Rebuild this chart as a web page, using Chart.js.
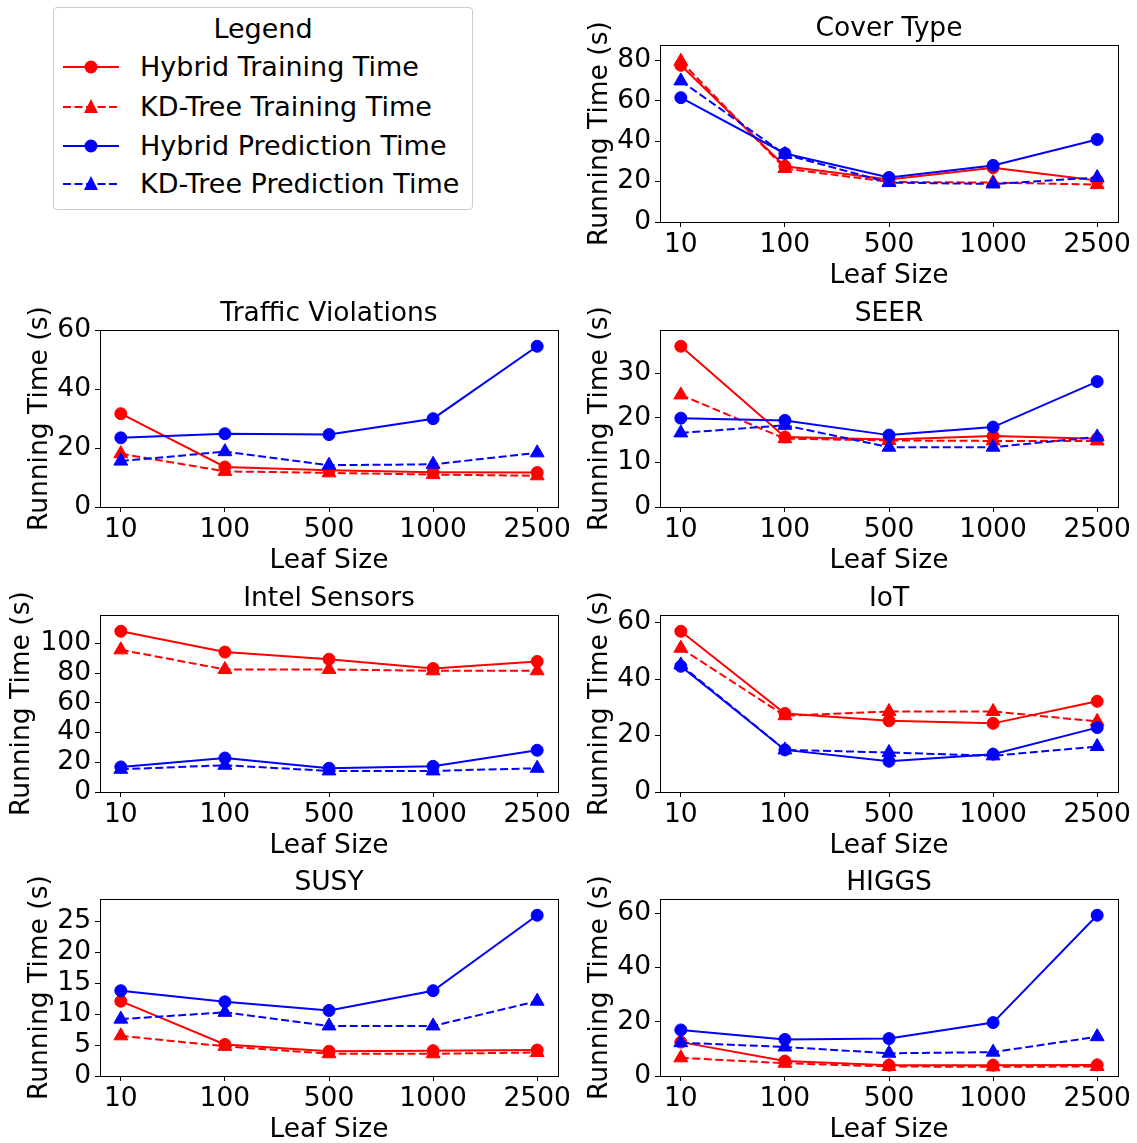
<!DOCTYPE html>
<html>
<head>
<meta charset="utf-8">
<script src="https://cdn.jsdelivr.net/npm/chart.js@4.4.0/dist/chart.umd.min.js"></script>
<style>
  body { margin: 0; background: #fff; width: 1137px; height: 1143px; position: relative; overflow: hidden;
         font-family: 'DejaVu Sans', sans-serif; color: #000; }
  canvas { position: absolute; }
  .legend { position: absolute; left: 53px; top: 7px; width: 418px; height: 201px;
            border: 1px solid #cccccc; border-radius: 4px; background: #fff; }
  .legend .lt { position: absolute; left: 0; width: 100%; top: 6px; line-height: 30px; font-size: 27px; text-align: center; }
  .legend .row { position: absolute; left: 0; height: 30px; line-height: 30px; font-size: 27px; white-space: nowrap; }
  .legend svg { position: absolute; left: 9px; top: 5px; }
  .legend span { position: absolute; left: 86px; top: 0; }
</style>
</head>
<body>
<div class="legend" id="legend"><div class="lt">Legend</div></div>
<script>
const leafSizes = ['10', '100', '500', '1000', '2500'];
const seriesNames = ['Hybrid Training Time', 'KD-Tree Training Time', 'Hybrid Prediction Time', 'KD-Tree Prediction Time'];

// each panel: [hybrid train, kd-tree train, hybrid predict, kd-tree predict]
const coverType = [
  [77.5, 27.6, 21.0, 26.8, 20.5],
  [79.5, 26.5, 19.8, 19.5, 18.5],
  [61.5, 33.9, 22.0, 28.0, 40.8],
  [69.8, 33.4, 19.5, 18.8, 22.0]
];
const trafficViolations = [
  [31.7, 13.6, 12.5, 11.8, 11.7],
  [18.1, 12.1, 11.6, 11.0, 10.6],
  [23.5, 24.9, 24.6, 30.0, 54.6],
  [15.6, 18.8, 14.2, 14.5, 18.4]
];
const seer = [
  [36.0, 15.7, 15.1, 15.9, 15.3],
  [25.1, 15.3, 14.9, 14.8, 14.8],
  [19.9, 19.4, 16.1, 17.9, 28.1],
  [16.6, 18.3, 13.4, 13.4, 15.7]
];
const intelSensors = [
  [108.2, 94.2, 89.4, 83.1, 87.9],
  [95.7, 82.5, 82.5, 81.6, 81.6],
  [16.9, 22.9, 16.0, 17.3, 28.1],
  [15.3, 18.0, 14.2, 14.2, 16.0]
];
const iot = [
  [56.9, 27.8, 25.2, 24.3, 32.1],
  [50.9, 27.0, 28.5, 28.5, 25.0],
  [44.5, 14.9, 10.9, 13.4, 22.8],
  [45.0, 14.9, 14.0, 12.8, 16.1]
];
const susy = [
  [12.1, 5.1, 4.0, 4.1, 4.2],
  [6.5, 4.8, 3.6, 3.6, 3.8],
  [13.8, 12.0, 10.6, 13.8, 26.0],
  [9.2, 10.3, 8.1, 8.1, 12.1]
];
const higgs = [
  [12.5, 5.5, 4.0, 4.0, 4.1],
  [6.7, 4.7, 3.5, 3.4, 3.5],
  [17.0, 13.5, 13.8, 19.7, 59.3],
  [12.3, 10.7, 8.4, 8.8, 14.5]
];

const coverTicks = [0, 20, 40, 60, 80];
const trafficTicks = [0, 20, 40, 60];
const seerTicks = [0, 10, 20, 30];
const intelTicks = [0, 20, 40, 60, 80, 100];
const iotTicks = [0, 20, 40, 60];
const susyTicks = [0, 5, 10, 15, 20, 25];
const higgsTicks = [0, 20, 40, 60];

const panels = [
  { title: 'Cover Type', data: coverType, ticks: coverTicks, row: 0, col: 1 },
  { title: 'Traffic Violations', data: trafficViolations, ticks: trafficTicks, row: 1, col: 0 },
  { title: 'SEER', data: seer, ticks: seerTicks, row: 1, col: 1 },
  { title: 'Intel Sensors', data: intelSensors, ticks: intelTicks, row: 2, col: 0 },
  { title: 'IoT', data: iot, ticks: iotTicks, row: 2, col: 1 },
  { title: 'SUSY', data: susy, ticks: susyTicks, row: 3, col: 0 },
  { title: 'HIGGS', data: higgs, ticks: higgsTicks, row: 3, col: 1 }
];

const colors = ['#ff0000', '#ff0000', '#0000ff', '#0000ff'];
const dashed = [false, true, false, true];
const fontSize = 26.5;

Chart.defaults.font.family = "'DejaVu Sans', sans-serif";
Chart.defaults.font.size = fontSize;
Chart.defaults.color = '#000';

// box around the plotting area, like matplotlib spines
const frame = {
  id: 'frame',
  afterDraw(chart) {
    const a = chart.chartArea, c = chart.ctx;
    c.save();
    c.strokeStyle = '#000';
    c.lineWidth = 1;
    c.strokeRect(Math.round(a.left) + 0.5, Math.round(a.top) + 0.5,
                 Math.round(a.right - a.left), Math.round(a.bottom - a.top));
    c.restore();
  }
};

const rowTops = [0, 285, 570, 854];
const colLefts = [0, 560];
const colWidths = [570, 577];

panels.forEach(p => {
  const cv = document.createElement('canvas');
  cv.width = colWidths[p.col];
  cv.height = 285;
  cv.style.left = colLefts[p.col] + 'px';
  cv.style.top = rowTops[p.row] + 'px';
  document.body.appendChild(cv);

  const yMax = 1.1 * Math.max(...p.data.flat());
  // wide tick labels (100) push the y title further left, as in matplotlib
  const wideTicks = Math.max(...p.ticks) >= 100;

  new Chart(cv.getContext('2d'), {
    type: 'line',
    data: {
      datasets: p.data.map((vals, k) => ({
        label: seriesNames[k],
        data: vals.map((v, i) => ({ x: i, y: v })),
        borderColor: colors[k],
        backgroundColor: colors[k],
        borderWidth: 2,
        borderDash: dashed[k] ? [8, 3.5] : [],
        pointStyle: dashed[k] ? 'triangle' : 'circle',
        pointRadius: dashed[k] ? 8 : 6,
        pointBorderWidth: 1,
        pointBackgroundColor: colors[k],
        pointBorderColor: colors[k],
        tension: 0,
        order: 3 - k,
        clip: false
      }))
    },
    options: {
      responsive: false,
      animation: false,
      layout: { padding: { left: 0, right: p.col === 0 ? 12 : 19, top: 0, bottom: 0 } },
      scales: {
        x: {
          type: 'linear',
          min: -0.2,
          max: 4.2,
          afterBuildTicks: s => { s.ticks = leafSizes.map((_, i) => ({ value: i })); },
          afterFit: s => { s.height = 63; s.paddingLeft = 0; s.paddingRight = 0; },
          ticks: { callback: v => leafSizes[v], autoSkip: false, maxRotation: 0, padding: 2 },
          grid: { drawOnChartArea: false, tickLength: 5, color: '#000', lineWidth: 1 },
          border: { display: false },
          title: { display: true, text: 'Leaf Size', font: { size: fontSize, lineHeight: 0.7 }, padding: { top: 0, bottom: 0 } }
        },
        y: {
          type: 'linear',
          min: 0,
          max: yMax,
          afterBuildTicks: s => { s.ticks = p.ticks.map(v => ({ value: v })); },
          afterFit: s => { s.width = 100; s.paddingTop = 0; s.paddingBottom = 0; },
          ticks: { padding: 4 },
          grid: { drawOnChartArea: false, tickLength: 5, color: '#000', lineWidth: 1 },
          border: { display: false },
          title: { display: true, text: 'Running Time (s)', font: { size: fontSize, lineHeight: 1.2 },
                   padding: { top: wideTicks ? 6 : 24, bottom: 0 } }
        }
      },
      plugins: {
        legend: { display: false },
        tooltip: { enabled: false },
        title: {
          display: true,
          fullSize: false,
          text: p.title,
          color: '#000',
          font: { size: fontSize, weight: 'normal', lineHeight: 1.2 },
          padding: { top: 13.4, bottom: 0 }
        }
      }
    },
    plugins: [frame]
  });
});

// legend panel
const legend = document.getElementById('legend');
const rowCenters = [59, 99, 138, 176];
seriesNames.forEach((name, k) => {
  const row = document.createElement('div');
  row.className = 'row';
  row.style.top = (rowCenters[k] - 15) + 'px';
  const marker = dashed[k]
    ? '<polygon points="28,2 35,16 21,16" fill="' + colors[k] + '"/>'
    : '<circle cx="28" cy="10" r="6.5" fill="' + colors[k] + '"/>';
  row.innerHTML =
    '<svg width="56" height="20"><line x1="0" y1="10" x2="56" y2="10" stroke="' + colors[k] +
    '" stroke-width="2"' + (dashed[k] ? ' stroke-dasharray="8,3.5"' : '') + '/>' + marker + '</svg>' +
    '<span>' + name + '</span>';
  legend.appendChild(row);
});
</script>
</body>
</html>
